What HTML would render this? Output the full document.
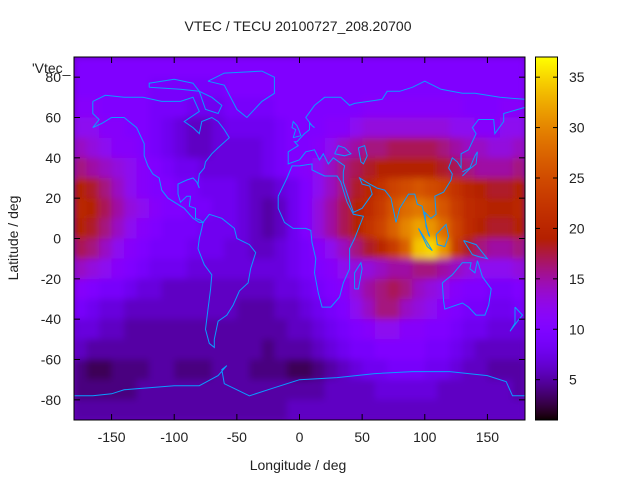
<!DOCTYPE html>
<html><head><meta charset="utf-8"><style>
body{margin:0;background:#fff;}
svg text{font-family:"Liberation Sans",sans-serif;font-size:14px;fill:#222;}
</style></head><body>
<svg id="chart" width="640" height="480" viewBox="0 0 640 480" xmlns="http://www.w3.org/2000/svg">
<defs>
<clipPath id="plotclip"><rect x="74" y="57" width="451" height="363"/></clipPath>
<filter id="soft" x="0" y="0" width="1" height="1"><feGaussianBlur stdDeviation="3.5" edgeMode="duplicate"/></filter>
</defs>
<rect x="0" y="0" width="640" height="480" fill="#fff"/>
<text x="298" y="31" text-anchor="middle">VTEC / TECU 20100727_208.20700</text>
<g clip-path="url(#plotclip)">
<rect x="74" y="57" width="451" height="363" fill="#6a00c0"/>
<g id="cells" filter="url(#soft)"></g>
<g id="coast" fill="none" stroke="#0a9cff" stroke-width="1"></g>
</g>
<rect x="74" y="57" width="451" height="363" fill="none" stroke="#000" stroke-width="1"/>
<g id="axes"></g>
<g id="cbar"></g>
<rect x="535.5" y="57" width="22" height="363" fill="none" stroke="#000"/>
<text x="32" y="73">'Vtec_</text>
<text x="298" y="470" text-anchor="middle">Longitude / deg</text>
<text x="18" y="238" text-anchor="middle" transform="rotate(-90 18 238)">Latitude / deg</text>
</svg>
<script>
const lats=[85,75,65,55,45,35,25,15,5,-5,-15,-25,-35,-45,-55,-65,-75,-85];
const lons=[-175,-165,-155,-145,-135,-125,-115,-105,-95,-85,-75,-65,-55,-45,-35,-25,-15,-5,5,15,25,35,45,55,65,75,85,95,105,115,125,135,145,155,165,175];
const vtec=[
[10,10,10,10,10,10,10,10,10,10,10,10,10,10,10,10,10,10,10,10,10,10,10,10,10,10,10,10,10,10,10,10,10,10,10,10],
[10,10,10,10,10,10,9,9,9,9,9,9,10,10,10,10,10,10,10,10,10,10,10,10,10,10,10,10,10,10,10,10,10,10,10,10],
[11,11,10,10,10,10,9,9,9,8,8,8,9,9,9,9,10,10,10,10,10,10,10,11,11,11,11,11,11,11,11,10,10,10,11,11],
[12,12,11,11,10,10,9,8,7,6,6,7,8,8,8,8,9,10,10,10,11,11,12,13,13,13,13,13,13,13,12,12,11,11,12,12],
[14,13,12,11,11,10,9,8,7,6,6,7,7,7,7,8,9,10,10,11,12,14,15,16,16,17,17,17,17,16,15,14,14,13,13,14],
[16,15,14,13,12,11,10,9,8,8,7,7,7,7,7,8,9,10,11,12,14,16,17,18,19,19,19,19,19,18,17,16,15,15,15,16],
[19,18,16,14,12,11,10,10,9,9,8,8,8,7,6,6,7,8,10,12,14,16,18,20,22,24,25,26,25,24,22,20,19,18,18,19],
[20,19,17,15,13,12,11,10,10,9,9,8,8,7,6,5,6,8,10,13,15,17,19,21,23,26,28,29,28,26,23,21,20,19,19,20],
[19,18,16,14,12,11,10,9,9,9,8,8,8,7,6,5,6,8,10,13,15,17,19,22,24,27,30,32,31,28,24,21,19,18,18,19],
[17,16,14,12,11,10,9,9,9,8,8,8,7,7,6,6,7,8,9,11,12,14,16,18,20,23,27,34,35,31,23,18,16,15,15,16],
[14,13,12,11,10,9,8,8,8,7,7,7,7,7,7,7,7,8,9,10,11,12,13,13,14,15,15,16,16,15,14,13,12,12,12,13],
[11,10,9,9,8,7,7,6,6,6,6,6,6,6,6,6,7,7,8,9,10,11,13,15,16,17,16,14,13,12,11,10,10,9,9,10],
[9,8,7,7,6,6,6,6,6,6,6,6,6,5,5,5,6,6,7,8,9,10,12,14,16,16,14,13,12,11,10,9,9,8,8,9],
[7,7,6,6,5,5,5,5,5,5,5,5,5,5,5,5,5,6,6,7,8,9,10,11,12,12,11,11,10,10,9,8,8,7,7,7],
[6,5,5,5,5,5,5,5,5,5,5,5,5,5,5,4,5,5,5,6,7,8,9,9,10,10,10,10,9,9,8,7,6,6,6,6],
[4,3,3,4,4,4,5,5,4,4,4,5,5,5,4,4,4,3,3,4,5,6,7,8,8,9,9,9,8,8,7,6,6,5,5,5],
[4,4,4,4,4,5,5,5,5,5,5,5,5,5,5,5,5,5,5,5,6,6,6,6,7,7,7,7,7,6,6,6,6,6,6,5],
[5,5,5,5,5,5,5,5,5,5,5,5,5,5,5,5,5,6,6,6,6,6,6,6,6,6,6,6,6,6,6,6,6,6,6,6]];
const xTicks=[-150,-100,-50,0,50,100,150];
const yTicks=[-80,-60,-40,-20,0,20,40,60,80];
const cTicks=[5,10,15,20,25,30,35];
const cMin=1, cMax=37;

const NS="http://www.w3.org/2000/svg";
const L=74,T=57,W=451,H=363;
const px=lon=>L+(lon+180)/360*W;
const py=lat=>T+(90-lat)/180*H;
const cy=v=>T+H-(v-cMin)/(cMax-cMin)*H;
function pal(v){let x=Math.max(0,Math.min(1,(v-cMin)/(cMax-cMin)));
 const r=Math.sqrt(x),g=x*x*x,b=Math.max(0,Math.sin(2*Math.PI*x));
 return `rgb(${Math.round(r*255)},${Math.round(g*255)},${Math.round(b*255)})`;}
function mk(tag,attrs,parent){const e=document.createElementNS(NS,tag);for(const k in attrs)e.setAttribute(k,attrs[k]);parent.appendChild(e);return e;}

const cells=document.getElementById('cells');
lats.forEach((la,i)=>lons.forEach((lo,j)=>{
 const r=mk('rect',{x:px(lo-5),y:py(la+5),width:px(lo+5)-px(lo-5)+0.5,height:py(la-5)-py(la+5)+0.5,fill:pal(vtec[i][j])},cells);
 
 
}));

const coasts=[
[[-165,68],[-155,71],[-140,70],[-125,70],[-110,68],[-95,68],[-85,70],[-80,63],[-92,58],[-85,55],[-80,52],[-78,58],[-70,60],[-65,58],[-60,54],[-56,50],[-65,45],[-70,42],[-75,38],[-76,35],[-80,32],[-81,27],[-80,25],[-82,28],[-85,30],[-90,29],[-97,27],[-97,22],[-95,18],[-90,21],[-87,21],[-88,16],[-83,15],[-83,10],[-79,9],[-77,8],[-80,8],[-85,10],[-92,15],[-105,20],[-110,24],[-112,30],[-117,32],[-121,36],[-124,41],[-124,47],[-130,55],[-140,60],[-150,60],[-158,57],[-165,55],[-160,59],[-165,62],[-165,68]],
[[-77,8],[-72,12],[-62,10],[-52,5],[-50,0],[-40,-3],[-35,-7],[-39,-15],[-41,-22],[-48,-26],[-53,-33],[-58,-38],[-65,-41],[-68,-50],[-68,-54],[-72,-52],[-75,-45],[-73,-35],[-71,-25],[-70,-18],[-76,-13],[-81,-5],[-80,0],[-78,5],[-77,8]],
[[-73,78],[-60,82],[-30,83],[-20,80],[-20,72],[-30,68],[-42,60],[-50,64],[-55,70],[-60,76],[-73,78]],
[[-120,75],[-95,74],[-80,73],[-85,77],[-100,79],[-120,77],[-120,75]],
[[-80,73],[-70,70],[-62,66],[-65,62],[-75,64],[-80,73]],
[[-17,21],[-17,15],[-12,8],[-5,5],[5,5],[9,4],[10,-2],[13,-10],[12,-17],[15,-27],[18,-34],[25,-34],[32,-29],[35,-22],[40,-15],[40,-5],[44,0],[51,11],[43,12],[38,18],[33,28],[30,31],[20,31],[10,34],[10,37],[0,36],[-6,36],[-10,30],[-17,21]],
[[-9,43],[-9,37],[0,39],[5,43],[12,44],[16,39],[19,42],[23,37],[27,40],[36,36],[35,33],[35,28],[43,13],[50,15],[58,22],[56,26],[50,27],[48,30],[56,27],[62,25],[68,24],[73,20],[77,8],[80,15],[87,22],[92,22],[94,17],[98,16],[100,10],[103,2],[104,1],[101,6],[100,13],[105,10],[109,12],[108,21],[115,23],[121,29],[122,32],[119,35],[122,40],[126,38],[129,35],[129,42],[135,44],[141,52],[138,55],[143,59],[155,59],[156,52],[163,58],[163,62],[180,65]],
[[180,69],[160,70],[140,72],[130,72],[113,74],[100,78],[90,75],[80,73],[70,73],[66,69],[55,68],[44,67],[40,66],[33,70],[20,70],[12,66],[5,60],[10,56],[12,55],[8,57],[8,54],[4,52],[-2,48],[-4,48],[-1,46],[-9,43]],
[[-5,50],[1,51],[0,53],[-2,56],[-5,58],[-6,55],[-3,54],[-5,50]],
[[47,45],[52,46],[54,41],[51,37],[49,38],[47,45]],
[[28,42],[31,46],[36,45],[41,42],[36,41],[28,42]],
[[114,-22],[122,-18],[130,-12],[137,-12],[136,-15],[140,-17],[142,-11],[146,-19],[153,-25],[151,-33],[148,-38],[141,-38],[135,-34],[130,-32],[116,-35],[115,-31],[114,-22]],
[[44,-25],[47,-25],[50,-15],[49,-12],[44,-17],[44,-25]],
[[95,5],[106,-6],[102,-4],[95,5]],
[[109,2],[117,7],[119,1],[116,-4],[110,-3],[109,2]],
[[130,31],[135,34],[141,37],[142,43],[140,41],[136,35],[130,33]],
[[131,-1],[141,-3],[150,-10],[143,-9],[138,-8],[131,-1]],
[[172,-34],[178,-38],[174,-41],[168,-46],[172,-42],[172,-34]],
[[-180,-78],[-165,-78],[-150,-77],[-140,-75],[-120,-74],[-100,-73],[-80,-73],[-65,-68],[-58,-63],[-62,-65],[-60,-72],[-40,-78],[-20,-74],[0,-70],[30,-69],[60,-67],[90,-66],[120,-66],[150,-68],[165,-71],[170,-78],[180,-78]]
];
const coast=document.getElementById('coast');
coasts.forEach(c=>{
 const p=mk('polyline',{points:c.map(q=>px(q[0]).toFixed(1)+','+py(q[1]).toFixed(1)).join(' ')},coast);
 
 
});

const axes=document.getElementById('axes');
xTicks.forEach(v=>{
 const x=px(v);
 mk('line',{x1:x,y1:T+H,x2:x,y2:T+H-6,stroke:'#000'},axes);
 mk('line',{x1:x,y1:T,x2:x,y2:T+6,stroke:'#000'},axes);
 const t=mk('text',{x:x,y:442,'text-anchor':'middle'},axes);t.textContent=v;
 
 
});
yTicks.forEach(v=>{
 const y=py(v);
 mk('line',{x1:L,y1:y,x2:L+6,y2:y,stroke:'#000'},axes);
 mk('line',{x1:L+W,y1:y,x2:L+W-6,y2:y,stroke:'#000'},axes);
 const t=mk('text',{x:61,y:y+5,'text-anchor':'end'},axes);t.textContent=v;
 
 
});
const cbar=document.getElementById('cbar');
for(let k=0;k<H;k++){
 const v=cMax-(k+0.5)/H*(cMax-cMin);
 const r=mk('rect',{x:536,y:T+k,width:21,height:1.2,fill:pal(v)},cbar);
 
 
}
cTicks.forEach(v=>{
 const y=cy(v);
 mk('line',{x1:536,y1:y,x2:540,y2:y,stroke:'#000'},cbar);
 mk('line',{x1:557,y1:y,x2:553,y2:y,stroke:'#000'},cbar);
 const t=mk('text',{x:569,y:y+5},cbar);t.textContent=v;
 
 
});
</script>
</body></html>
